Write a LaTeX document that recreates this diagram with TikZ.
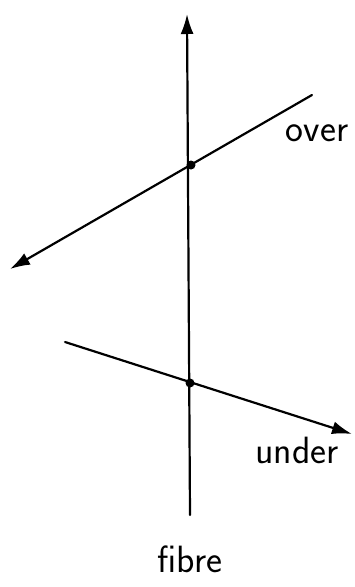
\documentclass[tikz,border=0pt]{standalone}
\usetikzlibrary{arrows.meta}
\begin{document}
\begin{tikzpicture}[x=1pt,y=-1pt,
  ln/.style={line width=2.2pt,line cap=round},
  arr/.style={-{Latex[length=20pt,width=13pt]}},
  dot/.style={circle,fill=black,inner sep=0pt,minimum size=9pt},
  lbl/.style={font=\sffamily\fontsize{38}{42}\selectfont,inner sep=0pt}]
\useasboundingbox (0,0) rectangle (355,587);
% vertical fibre
\coordinate (fb) at (190,515);
\coordinate (ft) at (187,14);
\node[dot] (d1) at (191,165) {};
\node[dot] (d2) at (190,383) {};
\draw[ln,arr] (fb) -- (ft);
% over line
\coordinate (o1) at (312,95);
\coordinate (o2) at (10,269);
\draw[ln,arr] (o1) -- (o2);
% under line
\coordinate (u1) at (65,342);
\coordinate (u2) at (352,434);
\draw[ln,arr] (u1) -- (u2);
\node[lbl] (over) at (317,133) {over};
\node[lbl] (under) at (297,450) {under};
\node[lbl] (fibre) at (190,559) {fibre};
\end{tikzpicture}
\end{document}
